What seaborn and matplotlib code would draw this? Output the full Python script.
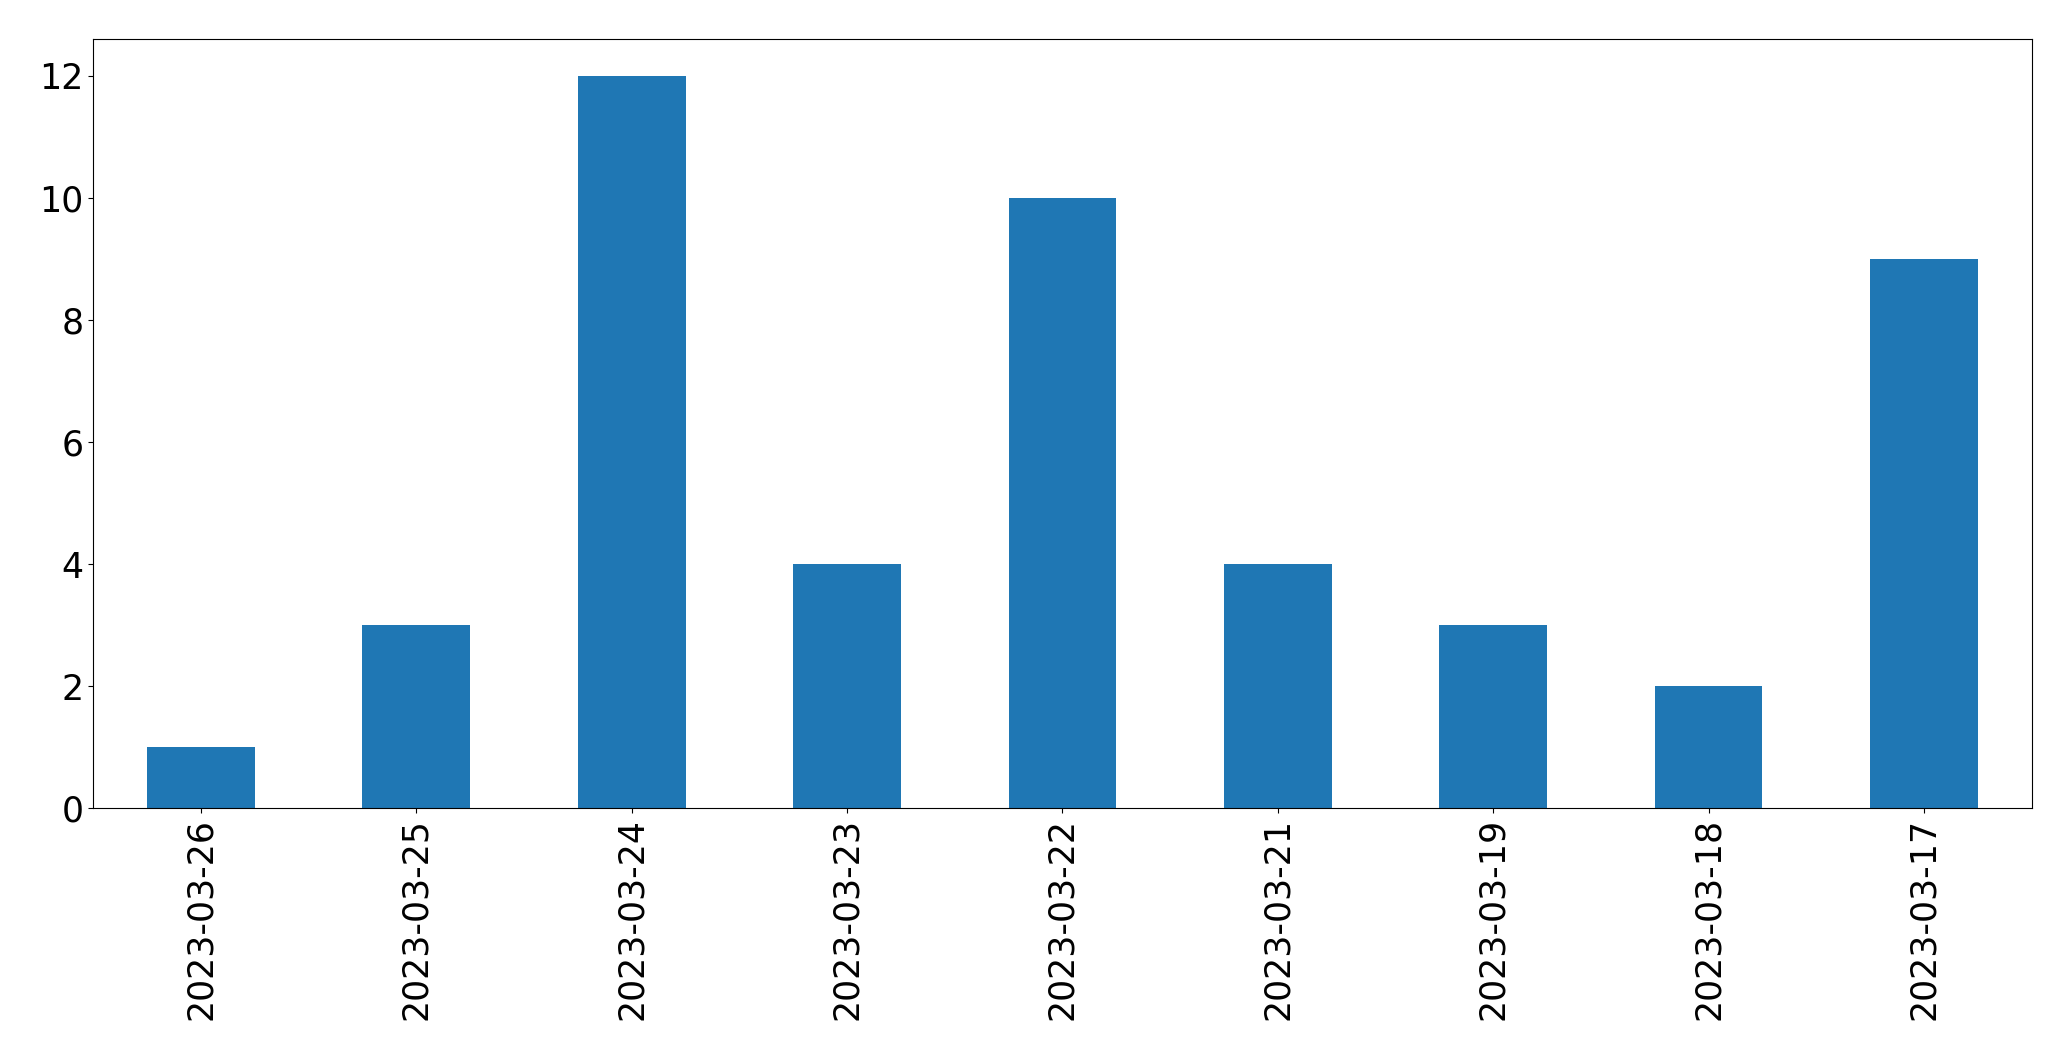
import matplotlib
matplotlib.use("Agg")
import matplotlib.pyplot as plt
import seaborn as sns
import pandas as pd

# Données
dates = ['2023-03-26', '2023-03-25', '2023-03-24', '2023-03-23', '2023-03-22',
         '2023-03-21', '2023-03-19', '2023-03-18', '2023-03-17']
counts = [1, 3, 12, 4, 10, 4, 3, 2, 9]

df = pd.DataFrame({'date': dates, 'count': counts})

fig, ax = plt.subplots(figsize=(20.71, 10.61), dpi=100)
sns.barplot(data=df, x='date', y='count', color='#1f77b4', saturation=1,
            width=0.5, ax=ax)

ax.set_xlim(-0.5, len(dates) - 0.5)
ax.set_ylim(0, 12.6)
ax.set_xlabel('')
ax.set_ylabel('')
ax.tick_params(axis='both', labelsize=25)
ax.tick_params(axis='x', labelrotation=90)

plt.subplots_adjust(left=0.045, right=0.981, top=0.963, bottom=0.238)
plt.savefig('out.png')
